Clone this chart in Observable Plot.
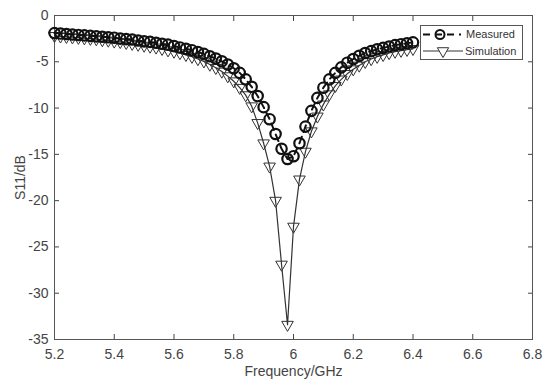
<!DOCTYPE html>
<html><head><meta charset="utf-8">
<script src="https://cdn.jsdelivr.net/npm/d3@7"></script>
<script src="https://cdn.jsdelivr.net/npm/@observablehq/plot@0.6"></script>
<style>body{margin:0;background:#fff} #chart{width:550px;height:388px}</style>
</head><body><div id="chart"></div>
<script>
const freq = [5.20,5.22,5.24,5.26,5.28,5.30,5.32,5.34,5.36,5.38,5.40,5.42,5.44,5.46,5.48,5.50,5.52,5.54,5.56,5.58,5.60,5.62,5.64,5.66,5.68,5.70,5.72,5.74,5.76,5.78,5.80,5.82,5.84,5.86,5.88,5.90,5.92,5.94,5.96,5.98,6.00,6.02,6.04,6.06,6.08,6.10,6.12,6.14,6.16,6.18,6.20,6.22,6.24,6.26,6.28,6.30,6.32,6.34,6.36,6.38,6.40];
const measured = [-1.9,-1.95,-2.0,-2.05,-2.1,-2.15,-2.2,-2.25,-2.3,-2.35,-2.4,-2.5,-2.55,-2.6,-2.7,-2.8,-2.85,-2.95,-3.05,-3.15,-3.3,-3.45,-3.6,-3.75,-3.95,-4.15,-4.4,-4.65,-4.95,-5.3,-5.7,-6.2,-6.9,-7.7,-8.7,-9.9,-11.2,-12.8,-14.4,-15.5,-15.2,-13.8,-12.0,-10.3,-8.9,-7.8,-6.9,-6.2,-5.6,-5.1,-4.7,-4.35,-4.05,-3.85,-3.65,-3.5,-3.35,-3.2,-3.1,-3.0,-2.9];
const simulation = [-2.2,-2.25,-2.3,-2.35,-2.4,-2.45,-2.5,-2.55,-2.65,-2.7,-2.8,-2.85,-2.95,-3.05,-3.15,-3.25,-3.35,-3.45,-3.6,-3.75,-3.9,-4.05,-4.25,-4.45,-4.7,-4.95,-5.3,-5.65,-6.05,-6.55,-7.1,-7.8,-8.6,-9.8,-11.6,-13.8,-16.3,-20.0,-26.9,-33.4,-22.8,-17.7,-14.7,-12.5,-10.9,-9.6,-8.5,-7.6,-6.9,-6.3,-5.8,-5.4,-5.0,-4.7,-4.45,-4.25,-4.05,-3.9,-3.8,-3.7,-3.6];
const xTicks = [5.2,5.4,5.6,5.8,6,6.2,6.4,6.6,6.8];
const yTicks = [0,-5,-10,-15,-20,-25,-30,-35];
const seriesNames = ["Measured","Simulation"];
const xLabel = "Frequency/GHz";
const yLabel = "S11/dB";

const mData = freq.map((f,i)=>({f, v: measured[i]}));
const sData = freq.map((f,i)=>({f, v: simulation[i]}));
const font = "'Liberation Sans', Arial, sans-serif";

const plot = Plot.plot({
  width:550, height:388, marginLeft:54, marginRight:18, marginTop:15, marginBottom:49,
  style:{fontFamily: font, fontSize:"14px", color:"#444", background:"#fff"},
  x:{domain:[5.2,6.8]}, y:{domain:[-35,0]},
  marks:[
    Plot.axisX(xTicks,{anchor:"bottom", tickSize:-5, tickPadding:15, tickFormat:d=>String(d), label:xLabel, labelAnchor:"center", labelOffset:36, labelArrow:"none"}),
    Plot.axisX(xTicks,{anchor:"top", tickSize:-5, tickFormat:()=>"", label:null}),
    Plot.axisY(yTicks,{anchor:"left", tickSize:-5, tickPadding:11, tickFormat:d=>String(d), label:yLabel, labelAnchor:"center", labelOffset:39, labelArrow:"none"}),
    Plot.axisY(yTicks,{anchor:"right", tickSize:-5, tickFormat:()=>"", label:null}),
    Plot.frame({stroke:"#555"}),
    Plot.line(sData,{x:"f", y:"v", stroke:"#333", strokeWidth:1.2}),
    Plot.dot(sData,{x:"f", y:"v", symbol:"triangle", r:4.3, rotate:180, stroke:"#333", strokeWidth:1, fill:"none"}),
    Plot.line(mData,{x:"f", y:"v", stroke:"#111", strokeWidth:2, strokeDasharray:"7,5"}),
    Plot.dot(mData,{x:"f", y:"v", r:5.2, stroke:"#111", strokeWidth:2.2, fill:"none"})
  ]
});
document.getElementById("chart").appendChild(plot);

// legend
const svg = d3.select(plot);
const lg = svg.append("g").attr("font-family", font).attr("font-size", 11).attr("fill","#333").attr("text-anchor","start");
lg.append("rect").attr("x",420.5).attr("y",25.5).attr("width",102).attr("height",34).attr("fill","#fff").attr("stroke","#555");
lg.append("line").attr("x1",423).attr("x2",461).attr("y1",34.5).attr("y2",34.5).attr("stroke","#111").attr("stroke-width",2).attr("stroke-dasharray","7,5");
lg.append("circle").attr("cx",440).attr("cy",34.5).attr("r",4.5).attr("fill","none").attr("stroke","#111").attr("stroke-width",2);
lg.append("text").attr("x",466).attr("y",34.5).attr("dy","0.35em").text(seriesNames[0]);
lg.append("line").attr("x1",423).attr("x2",463).attr("y1",51).attr("y2",51).attr("stroke","#333").attr("stroke-width",1.2);
lg.append("path").attr("d", d3.symbol(d3.symbolTriangle, Math.PI*4.2*4.2)()).attr("transform","translate(443,51) rotate(180)").attr("fill","#fff").attr("stroke","#333");
lg.append("text").attr("x",465).attr("y",51).attr("dy","0.35em").text(seriesNames[1]);
</script>
</body></html>
